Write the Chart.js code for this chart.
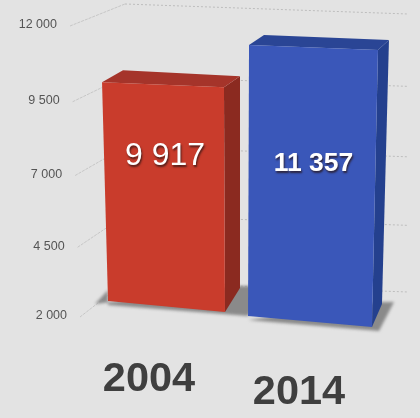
<!DOCTYPE html>
<html>
<head>
<meta charset="utf-8">
<script src="https://cdn.jsdelivr.net/npm/chart.js@4"></script>
<style>
  html, body { margin: 0; padding: 0; background: #e3e3e3; }
  canvas { display: block; }
</style>
</head>
<body>
<canvas id="barchart" width="420" height="418"></canvas>
<script>
const categories = ["2004", "2014"];
const values = [9917, 11357];
const tickValues = [2000, 4500, 7000, 9500, 12000];

const spaced = v => String(v).replace(/\B(?=(\d{3})+$)/g, " ");

// per bar look: corners of the front face are nudged off the plain rectangle, the box goes back by the depth offsets
const boxes = [
  { front: "#c93c2c", top: "#a5342a", side: "#8b2a20",
    tl: [1.5, -6], tr: [-1.5, -1], br: [-0.5, -4], bl: [7.5, -15],
    backTop: [21, -12], backRight: [16, -11], backFoot: [15, -24],
    label: { font: "32px 'Liberation Sans'", pos: 0.3, dx: 2 },
    shadow: [[0, -11], [-13, 3]], shadowEnd: [23, 4] },
  { front: "#3a57b9", top: "#2a4595", side: "#24408e",
    tl: [-1.5, 0.4], tr: [2.5, 5.4], br: [-3.5, 11], bl: [-2.5, 0],
    backTop: [15, -10], backRight: [11, -10], backFoot: [10, -23],
    label: { font: "bold 26.5px 'Liberation Sans'", pos: 0.44, dx: 0 },
    shadow: [[0, 4]], shadowEnd: [7, 4] }
];

// linear scale with a slight bow, the axis of the photo is in perspective
class TiltScale extends Chart.LinearScale {
  static id = "tilt";
  getPixelForValue(v) {
    const f = (v - this.min) / (this.max - this.min);
    return super.getPixelForValue(v) + 16 * f * (1 - f);
  }
  _computeLabelItems(area) {
    const items = super._computeLabelItems(area);
    items.forEach(it => {
      it.options.translation[0] -= (this.bottom - it.options.translation[1]) * 10 / 290;
    });
    return items;
  }
}
Chart.register(TiltScale);

function poly(ctx, pts, fill) {
  ctx.beginPath();
  pts.forEach((p, i) => i ? ctx.lineTo(p[0], p[1]) : ctx.moveTo(p[0], p[1]));
  ctx.closePath();
  ctx.fillStyle = fill;
  ctx.fill();
}

const boxPlugin = {
  id: "box",
  beforeDatasetsDraw(chart) {
    // the wall lines, one for each tick of the y scale
    const ctx = chart.ctx, y = chart.scales.y, area = chart.chartArea;
    ctx.save();
    ctx.lineWidth = 1;
    tickValues.forEach(v => {
      const py = y.getPixelForValue(v);
      const lean = (py - area.top) / area.height;
      const wallX = area.left + 37, wallY = py - 21 - 13 * lean;
      ctx.strokeStyle = "#c6c6c6";
      ctx.setLineDash([3, 1]);
      ctx.beginPath();
      ctx.moveTo(area.left - 18 + 10 * lean, py + 1);
      ctx.lineTo(wallX, wallY);
      ctx.stroke();
      ctx.strokeStyle = "#bdbdbd";
      ctx.setLineDash([2, 2]);
      ctx.beginPath();
      ctx.moveTo(wallX, wallY);
      ctx.lineTo(area.right + 20, wallY + 10);
      ctx.stroke();
    });
    ctx.restore();
  },
  beforeDatasetDraw(chart, args) {
    const ctx = chart.ctx;
    const bars = chart.getDatasetMeta(args.index).data;
    // shadows first, they lie on the floor under both boxes
    bars.forEach((bar, i) => {
      const b = boxes[i], p = bar.getProps(["x", "y", "base", "width"], true);
      const r = p.x + p.width / 2, l = p.x - p.width / 2;
      const bl = [l + b.bl[0], p.base + b.bl[1]], br = [r + b.br[0], p.base + b.br[1]];
      const foot = [br[0] + b.backFoot[0], br[1] + b.backFoot[1]];
      ctx.save();
      ctx.filter = "blur(1.5px)";
      poly(ctx, [[foot[0], foot[1] - 2], [foot[0] + b.shadowEnd[0] + 5, foot[1] - 2],
        [br[0] + b.shadowEnd[0], br[1] + b.shadowEnd[1]], [bl[0], bl[1] + 4]]
        .concat(b.shadow.map(s => [bl[0] + s[0], bl[1] + s[1]])), "#8a8a8a");
      ctx.restore();
    });
    bars.forEach((bar, i) => {
      const b = boxes[i], p = bar.getProps(["x", "y", "base", "width"], true);
      const r = p.x + p.width / 2, l = p.x - p.width / 2;
      const tl = [l + b.tl[0], p.y + b.tl[1]], tr = [r + b.tr[0], p.y + b.tr[1]];
      const br = [r + b.br[0], p.base + b.br[1]], bl = [l + b.bl[0], p.base + b.bl[1]];
      const at = (c, o) => [c[0] + o[0], c[1] + o[1]];
      poly(ctx, [tr, at(tr, b.backRight), at(br, b.backFoot), br], b.side);
      poly(ctx, [tl, at(tl, b.backTop), at(tr, b.backRight), tr], b.top);
      poly(ctx, [tl, tr, br, bl], bar.options.backgroundColor);

      ctx.save();
      ctx.font = b.label.font;
      ctx.fillStyle = "#fff";
      ctx.textAlign = "center";
      ctx.textBaseline = "middle";
      ctx.shadowColor = "rgba(40,20,20,0.75)";
      ctx.shadowOffsetX = 1;
      ctx.shadowOffsetY = 2;
      ctx.shadowBlur = 2;
      ctx.fillText(spaced(values[i]), (tl[0] + tr[0]) / 2 + b.label.dx, p.y + (p.base - p.y) * b.label.pos);
      ctx.restore();
    });
    return false;
  }
};

const ctx = document.getElementById("barchart").getContext("2d");
const barchart = new Chart(ctx, {
  type: "bar",
  data: {
    labels: categories,
    datasets: [{
      data: values,
      base: tickValues[0],
      backgroundColor: boxes.map(b => b.front),
      barPercentage: 0.833,
      categoryPercentage: 1
    }]
  },
  options: {
    responsive: false,
    animation: false,
    layout: { padding: { top: 25, right: 32 } },
    plugins: { legend: { display: false }, tooltip: { enabled: false } },
    scales: {
      x: {
        grid: { display: false },
        border: { display: false },
        afterFit: s => { s.height = 102; },
        ticks: {
          color: "#3f3f3f",
          padding: 35,
          labelOffset: -14,
          maxRotation: 0,
          // the second label sits lower, a taller line pushes it down
          font: c => ({ family: "'Liberation Sans'", size: 41.5, weight: "bold", lineHeight: c.index ? 68 / 41.5 : 42 / 41.5 })
        }
      },
      y: {
        type: "tilt",
        min: tickValues[0],
        max: tickValues[tickValues.length - 1],
        grid: { display: false },
        border: { display: false },
        afterFit: s => { s.width = 88; },
        afterBuildTicks: s => { s.ticks = tickValues.map(v => ({ value: v })); },
        ticks: {
          color: "#555555",
          padding: 13,
          font: { family: "'Liberation Sans'", size: 12.5 },
          callback: spaced
        }
      }
    }
  },
  plugins: [boxPlugin]
});
</script>
</body>
</html>
